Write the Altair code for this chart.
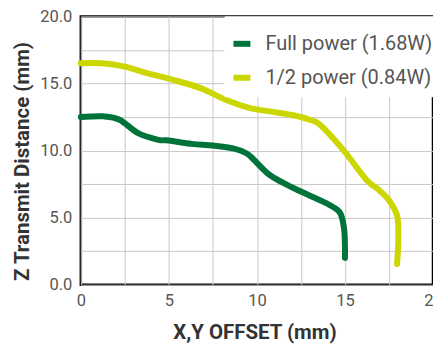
import altair as alt
import pandas as pd

series_names = ["Full power (1.68W)", "1/2 power (0.84W)"]
series_colors = ["#00733a", "#ccd600"]

full_x = [0, 1.3, 2.2, 3.25, 4.4, 5.0, 6.3, 7.5, 8.7, 9.4, 9.8, 10.7, 11.5, 12.4, 13.9, 14.7, 14.95, 15.0, 15.0]
full_y = [12.5, 12.55, 12.3, 11.3, 10.8, 10.75, 10.5, 10.37, 10.15, 9.8, 9.35, 8.2, 7.6, 7.0, 6.1, 5.4, 4.15, 2.8, 2.0]

half_x = [0, 1.2, 2.5, 3.8, 5.3, 6.8, 8.2, 9.5, 10.8, 12.0, 13.0, 13.6, 14.9, 16.2, 16.9, 17.5, 17.97, 18.03, 17.96]
half_y = [16.5, 16.5, 16.25, 15.75, 15.25, 14.65, 13.8, 13.2, 12.9, 12.65, 12.3, 11.9, 10.05, 7.85, 7.1, 6.3, 5.1, 3.4, 1.55]

grid_ticks = [0, 2.5, 5, 7.5, 10, 12.5, 15, 17.5, 20]

rows = []
for i, (x, y) in enumerate(zip(full_x, full_y)):
    rows.append({"x": x, "y": y, "series": series_names[0], "order": i})
for i, (x, y) in enumerate(zip(half_x, half_y)):
    rows.append({"x": x, "y": y, "series": series_names[1], "order": i})
df = pd.DataFrame(rows)

FONT = "Roboto"

chart = alt.Chart(df).mark_line(
    strokeWidth=6, strokeCap="round", strokeJoin="round", interpolate="cardinal"
).encode(
    x=alt.X("x:Q", scale=alt.Scale(domain=[0, 20], nice=False),
            axis=alt.Axis(values=grid_ticks, title="X,Y OFFSET (mm)",
                          labelExpr="datum.value % 5 == 0 ? format(datum.value, 'd') : ''",
                          labelFlush=False, labelPadding=8,
                          titleX=174, titleY=54, titleBaseline="alphabetic")),
    y=alt.Y("y:Q", scale=alt.Scale(domain=[0, 20], nice=False),
            axis=alt.Axis(values=grid_ticks, title="Z Transmit Distance (mm)",
                          labelExpr="datum.value % 5 == 0 ? format(datum.value, '.1f') : ''",
                          labelFlush=False, labelPadding=9,
                          titleX=-58, titleY=145, titleBaseline="middle")),
    color=alt.Color("series:N", sort=series_names,
                    scale=alt.Scale(domain=series_names, range=series_colors),
                    legend=alt.Legend(orient="none", legendX=144, legendY=0,
                                      title=" ", titleFontSize=8, titlePadding=2,
                                      symbolType="stroke", symbolStrokeWidth=6,
                                      symbolSize=289, labelOffset=12,
                                      padding=6, rowPadding=9, labelLimit=260,
                                      fillColor="white", strokeColor="white",
                                      labelFontSize=20, labelColor="#555555",
                                      labelFont=FONT)),
    order="order:Q",
).properties(
    width=353, height=269,
    autosize=alt.AutoSizeParams(type="none"),
    padding={"left": 73, "top": 8, "right": 0, "bottom": 60},
).configure_view(
    stroke="black", strokeWidth=2.5
).configure_axis(
    domain=False, ticks=False, grid=True, gridColor="#c8c8c8", gridWidth=1,
    labelFont=FONT, labelFontSize=16.5, labelColor="#555555",
    titleFont=FONT, titleFontSize=20.5, titleFontWeight="bold",
    titleColor="#333333",
)

chart.save("out.html", embed_options={"renderer": "svg", "actions": False})
